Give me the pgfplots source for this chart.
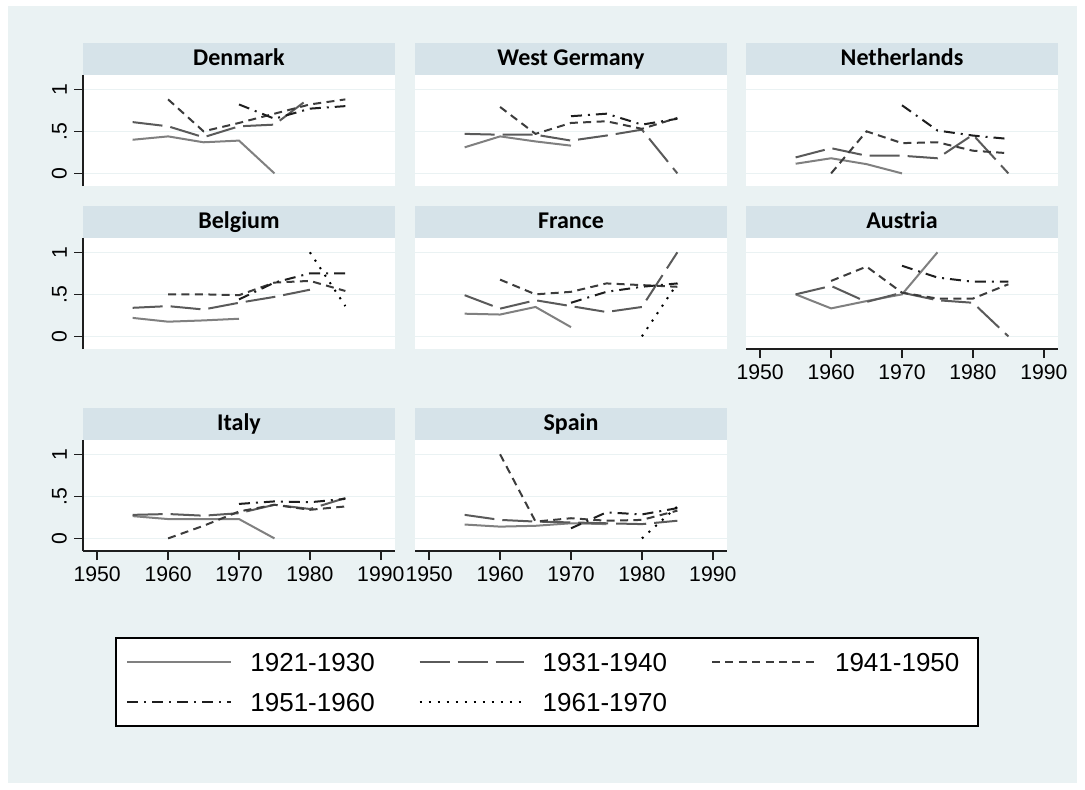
\documentclass[border=0pt]{standalone}
\usepackage{fontspec}
\setmainfont{Liberation Sans}
\newfontfamily\stripfont{Carlito}
\usepackage{pgfplots}
\pgfplotsset{compat=1.18}

\definecolor{bgc}{RGB}{234,242,243}
\definecolor{stripc}{RGB}{214,227,233}
\definecolor{gridc}{RGB}{234,242,243}
\definecolor{axc}{RGB}{30,30,30}
\definecolor{s1}{RGB}{128,128,128}
\definecolor{s2}{RGB}{90,90,90}
\definecolor{s3}{RGB}{60,60,60}
\definecolor{s4}{RGB}{30,30,30}
\definecolor{s5}{RGB}{0,0,0}

\newcommand\ticklab[1]{\mbox{\fontsize{10.6}{12.5}\selectfont #1}}

\pgfplotsset{
  c1/.style={draw=s1, line width=1pt},
  c2/.style={draw=s2, line width=1pt, dash pattern=on 15pt off 4pt},
  c3/.style={draw=s3, line width=1pt, dash pattern=on 4pt off 2.7pt},
  c4/.style={draw=s4, line width=1pt, dash pattern=on 5.5pt off 3pt on 1pt off 3pt},
  c5/.style={draw=s5, line width=1pt, dash pattern=on 1pt off 3.5pt},
  panel/.style={
    scale only axis, width=156pt, height=55.5pt,
    xmin=1948, xmax=1992, ymin=-0.15, ymax=1.17,
    axis x line*=bottom, axis y line*=left,
    axis line style={-, line width=0.7pt},
    x axis line style={draw=none}, y axis line style={draw=none},
    axis background/.style={fill=white},
    xtick={1950,1960,1970,1980,1990}, ytick={0,0.5,1},
    xticklabels={}, yticklabels={},
    ymajorgrids, major grid style={draw=gridc, line width=0.7pt},
    tick align=outside, major tick length=4.5pt,
    xtick style={draw=none, line width=0.7pt},
    ytick style={draw=none, line width=0.7pt},
    tick label style={font=\fontsize{10.6}{12.5}\selectfont},
    title style={at={(0.5,1)}, anchor=south, yshift=-6pt, fill=stripc,
      minimum width=156pt, text height=9pt, text depth=2.5pt,
      inner xsep=0pt, inner ysep=2.25pt,
      font=\stripfont\bfseries\fontsize{12}{14}\selectfont},
    every axis plot/.append style={no markers},
  },
  showx/.style={x axis line style={draw=axc}, xtick style={draw=axc},
    xticklabels={\ticklab{1950},\ticklab{1960},\ticklab{1970},\ticklab{1980},\ticklab{1990}}},
  showy/.style={y axis line style={draw=axc}, ytick style={draw=axc},
    yticklabels={\ticklab{0},\ticklab{.5},\ticklab{1}}, yticklabel style={rotate=90, anchor=south}},
}

\begin{document}
\begin{tikzpicture}
\fill[white] (0pt,0pt) rectangle (542.5pt,-394.5pt);
\fill[bgc] (4pt,-3pt) rectangle (538.5pt,-391.5pt);

% row 1
\begin{axis}[panel, showy, at={(41.5pt,-37.5pt)}, anchor=north west, title={Denmark}]
\addplot[c1] coordinates {(1955,.40)(1960,.44)(1965,.37)(1970,.39)(1975,0)};
\addplot[c2] coordinates {(1955,.61)(1960,.56)(1965,.43)(1970,.56)(1975,.58)(1980,.90)};
\addplot[c3] coordinates {(1960,.88)(1965,.50)(1970,.60)(1975,.71)(1980,.82)(1985,.88)};
\addplot[c4] coordinates {(1970,.82)(1975,.65)(1980,.77)(1985,.80)};
\end{axis}

\begin{axis}[panel, at={(207.5pt,-37.5pt)}, anchor=north west, title={West Germany}]
\addplot[c1] coordinates {(1955,.31)(1960,.44)(1965,.38)(1970,.33)};
\addplot[c2] coordinates {(1955,.47)(1960,.46)(1965,.46)(1970,.39)(1975,.45)(1980,.52)(1985,0)};
\addplot[c3] coordinates {(1960,.79)(1965,.47)(1970,.60)(1975,.62)(1980,.53)(1985,.66)};
\addplot[c4] coordinates {(1970,.68)(1975,.71)(1980,.58)(1985,.65)};
\end{axis}

\begin{axis}[panel, at={(373pt,-37.5pt)}, anchor=north west, title={Netherlands}]
\addplot[c1] coordinates {(1955,.115)(1960,.18)(1965,.11)(1970,0)};
\addplot[c2] coordinates {(1955,.19)(1960,.30)(1965,.21)(1970,.21)(1975,.18)(1980,.46)(1985,0)};
\addplot[c3] coordinates {(1960,0)(1965,.50)(1970,.36)(1975,.37)(1980,.27)(1985,.24)};
\addplot[c4] coordinates {(1970,.81)(1975,.51)(1980,.45)(1985,.41)};
\end{axis}

% row 2
\begin{axis}[panel, showy, at={(41.5pt,-119pt)}, anchor=north west, title={Belgium}]
\addplot[c1] coordinates {(1955,.22)(1960,.175)(1965,.19)(1970,.21)};
\addplot[c2] coordinates {(1955,.34)(1960,.36)(1965,.32)(1970,.40)(1975,.47)(1980,.555)};
\addplot[c3] coordinates {(1960,.50)(1965,.50)(1970,.49)(1975,.64)(1980,.66)(1985,.54)};
\addplot[c4] coordinates {(1970,.44)(1975,.64)(1980,.75)(1985,.75)};
\addplot[c5] coordinates {(1980,1)(1985,.36)};
\end{axis}

\begin{axis}[panel, at={(207.5pt,-119pt)}, anchor=north west, title={France}]
\addplot[c1] coordinates {(1955,.27)(1960,.26)(1965,.35)(1970,.11)};
\addplot[c2] coordinates {(1955,.49)(1960,.33)(1965,.43)(1970,.36)(1975,.29)(1980,.35)(1985,1)};
\addplot[c3] coordinates {(1960,.675)(1965,.50)(1970,.53)(1975,.63)(1980,.61)(1985,.59)};
\addplot[c4] coordinates {(1970,.40)(1975,.53)(1980,.59)(1985,.63)};
\addplot[c5] coordinates {(1980,0)(1985,.63)};
\end{axis}

\begin{axis}[panel, showx, at={(373pt,-119pt)}, anchor=north west, title={Austria}]
\addplot[c1] coordinates {(1955,.5)(1960,.333)(1965,.42)(1970,.5)(1975,1)};
\addplot[c2] coordinates {(1955,.5)(1960,.6)(1965,.41)(1970,.52)(1975,.43)(1980,.40)(1985,0)};
\addplot[c3] coordinates {(1960,.66)(1965,.83)(1970,.52)(1975,.45)(1980,.45)(1985,.62)};
\addplot[c4] coordinates {(1970,.84)(1975,.70)(1980,.65)(1985,.65)};
\end{axis}

% row 3
\begin{axis}[panel, showx, showy, at={(41.5pt,-220pt)}, anchor=north west, title={Italy}]
\addplot[c1] coordinates {(1955,.265)(1960,.23)(1965,.23)(1970,.23)(1975,0)};
\addplot[c2] coordinates {(1955,.28)(1960,.29)(1965,.27)(1970,.30)(1975,.40)(1980,.35)(1985,.48)};
\addplot[c3] coordinates {(1960,0)(1965,.15)(1970,.32)(1975,.40)(1980,.34)(1985,.38)};
\addplot[c4] coordinates {(1970,.41)(1975,.44)(1980,.43)(1985,.47)};
\end{axis}

\begin{axis}[panel, showx, at={(207.5pt,-220pt)}, anchor=north west, title={Spain}]
\addplot[c1] coordinates {(1955,.165)(1960,.14)(1965,.15)(1970,.18)(1975,.17)};
\addplot[c2] coordinates {(1955,.28)(1960,.22)(1965,.20)(1970,.19)(1975,.18)(1980,.17)(1985,.21)};
\addplot[c3] coordinates {(1960,1)(1965,.20)(1970,.24)(1975,.21)(1980,.22)(1985,.33)};
\addplot[c4] coordinates {(1970,.12)(1975,.31)(1980,.285)(1985,.36)};
\addplot[c5] coordinates {(1980,0)(1985,.38)};
\end{axis}

% legend
\begin{axis}[at={(58pt,-363pt)}, anchor=south west, scale only axis,
  width=431pt, height=44pt, xmin=0, xmax=1, ymin=0, ymax=1,
  xtick=\empty, ytick=\empty,
  axis line style={black, line width=0.6pt},
  axis background/.style={fill=white},
  legend columns=3,
  legend image code/.code={\draw[#1] (0pt,0pt) -- (52pt,0pt);},
  legend style={at={(0,0.5)}, anchor=west, xshift=5pt, draw=none, fill=none,
    inner sep=0pt, row sep=11pt,
    font=\fontsize{13}{15}\selectfont,
    nodes={inner sep=0pt, text height=9pt, text depth=0pt},
    /tikz/every odd column/.append style={column sep=9pt},
    /tikz/every even column/.append style={column sep=22pt}},
  legend cell align=left]
\addlegendimage{c1}\addlegendentry{1921-1930}
\addlegendimage{c2}\addlegendentry{1931-1940}
\addlegendimage{c3}\addlegendentry{1941-1950}
\addlegendimage{c4}\addlegendentry{1951-1960}
\addlegendimage{c5}\addlegendentry{1961-1970}
\end{axis}
\end{tikzpicture}
\end{document}
